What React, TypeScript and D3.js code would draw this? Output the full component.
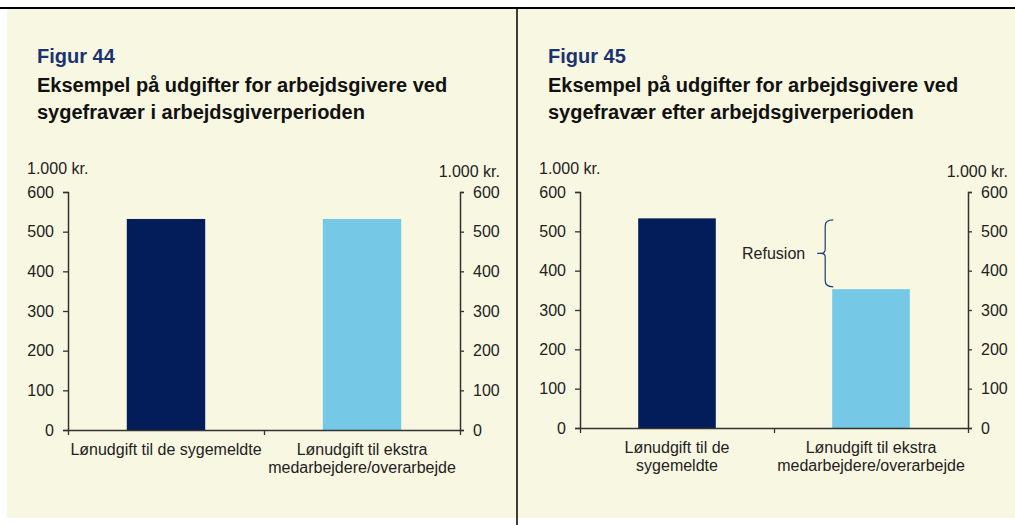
import * as d3 from "d3";
import React, { useRef, useEffect } from "react";

const width = 1015;
const height = 525;

// shared data
const categoriesLeft = ["Lønudgift til de sygemeldte", "Lønudgift til ekstra\nmedarbejdere/overarbejde"];
const categoriesRight = ["Lønudgift til de\nsygemeldte", "Lønudgift til ekstra\nmedarbejdere/overarbejde"];
const valuesFig44 = [532, 532];
const valuesFig45 = [533, 353];
const yTicks = [0, 100, 200, 300, 400, 500, 600];
const barColors = ["#031d5b", "#75c8e6"];
const unitLabel = "1.000 kr.";
const refusionLabel = "Refusion";

const bg = "#f8f7e1";
const font = "'Liberation Sans', Arial, sans-serif";
const fs = 16;

const Panel = ({ x0, x1, y0, yTop, titleX, figur, titleLines, categories, values, brace }) => {
  const leftAxisRef = useRef(null);
  const rightAxisRef = useRef(null);
  const bottomRef = useRef(null);

  const yScale = d3.scaleLinear().domain([0, 600]).range([y0, yTop]);
  const xScale = d3.scaleBand().domain(categories).range([x0, x1]).paddingInner(0).paddingOuter(0);
  const barW = xScale.bandwidth() * 0.4;

  useEffect(() => {
    const style = (sel) => {
      sel.selectAll(".domain").attr("stroke", "#333").attr("stroke-width", 1.5);
      sel.selectAll(".tick line").attr("stroke", "#333").attr("stroke-width", 1.3);
      sel.selectAll("text").attr("font-family", font).attr("font-size", fs).attr("fill", "#222");
    };
    const left = d3.select(leftAxisRef.current);
    left.call(d3.axisLeft(yScale).tickValues(yTicks).tickSize(5).tickSizeOuter(5).tickPadding(9));
    style(left);
    const right = d3.select(rightAxisRef.current);
    right.call(d3.axisRight(yScale).tickValues(yTicks).tickSize(4).tickSizeOuter(4).tickPadding(9));
    style(right);
    const bottom = d3.select(bottomRef.current);
    bottom.call(
      d3.axisBottom(d3.scaleLinear().domain([0, categories.length]).range([x0, x1]))
        .tickValues(d3.range(categories.length + 1))
        .tickSize(5)
        .tickSizeOuter(0)
        .tickFormat(() => "")
    );
    style(bottom);
  }, []);

  let braceEl = null;
  if (brace) {
    const bx = xScale(categories[1]) + xScale.bandwidth() / 2 - barW / 2;
    const yA = yScale(values[0] - 4);
    const yB = yScale(values[1] + 6);
    const ym = (yA + yB) / 2;
    const vx = bx - 7;
    const p = `M${bx + 1},${yA} Q${vx},${yA} ${vx},${yA + 6} L${vx},${ym - 4} Q${vx},${ym} ${vx - 4},${ym} L${vx - 8},${ym} M${vx - 4},${ym} Q${vx},${ym} ${vx},${ym + 4} L${vx},${yB - 6} Q${vx},${yB} ${bx + 1},${yB}`;
    braceEl = (
      <g>
        <path d={p} fill="none" stroke="#1d3a78" strokeWidth={1.2} />
        <text x={vx - 20} y={ym + 6} textAnchor="end" fontFamily={font} fontSize={fs} fill="#222">
          {refusionLabel}
        </text>
      </g>
    );
  }

  return (
    <g>
      <text x={titleX} y={63} fontFamily={font} fontSize={20} fontWeight="bold" fill="#1b3271">
        {figur}
      </text>
      {titleLines.map((t, i) => (
        <text key={i} x={titleX} y={92 + i * 27} fontFamily={font} fontSize={20} fontWeight="bold" fill="#111">
          {t}
        </text>
      ))}
      <text x={x0 - 41} y={174} fontFamily={font} fontSize={fs} fill="#222">{unitLabel}</text>
      <text x={x1 + 40} y={177} textAnchor="end" fontFamily={font} fontSize={fs} fill="#222">{unitLabel}</text>
      {values.map((v, i) => (
        <rect
          key={i}
          x={xScale(categories[i]) + xScale.bandwidth() / 2 - barW / 2}
          y={yScale(v)}
          width={barW}
          height={y0 - yScale(v)}
          fill={barColors[i]}
        />
      ))}
      {braceEl}
      <g ref={leftAxisRef} transform={`translate(${x0},0)`} />
      <g ref={rightAxisRef} transform={`translate(${x1},0)`} />
      <g ref={bottomRef} transform={`translate(0,${y0})`} />
      {categories.map((c, i) =>
        c.split("\n").map((line, j) => (
          <text
            key={`${i}-${j}`}
            x={xScale(c) + xScale.bandwidth() / 2}
            y={y0 + 25 + j * 18}
            textAnchor="middle"
            fontFamily={font}
            fontSize={fs}
            fill="#222"
          >
            {line}
          </text>
        ))
      )}
    </g>
  );
};

export default function App() {
  return (
    <svg width={width} height={height} style={{ position: "absolute", left: 0, top: 0, background: "#fff" }}>
      <rect x={7} y={8} width={width - 7} height={510} fill={bg} />
      <line x1={0} x2={width} y1={8} y2={8} stroke="#000" strokeWidth={2} />
      <line x1={517} x2={517} y1={8} y2={height} stroke="#000" strokeWidth={1.5} />
      <Panel
        x0={68}
        x1={460}
        y0={430}
        yTop={192}
        titleX={37}
        figur="Figur 44"
        titleLines={["Eksempel på udgifter for arbejdsgivere ved", "sygefravær i arbejdsgiverperioden"]}
        categories={categoriesLeft}
        values={valuesFig44}
        brace={false}
      />
      <Panel
        x0={580}
        x1={968}
        y0={428}
        yTop={192}
        titleX={548}
        figur="Figur 45"
        titleLines={["Eksempel på udgifter for arbejdsgivere ved", "sygefravær efter arbejdsgiverperioden"]}
        categories={categoriesRight}
        values={valuesFig45}
        brace={true}
      />
    </svg>
  );
}
